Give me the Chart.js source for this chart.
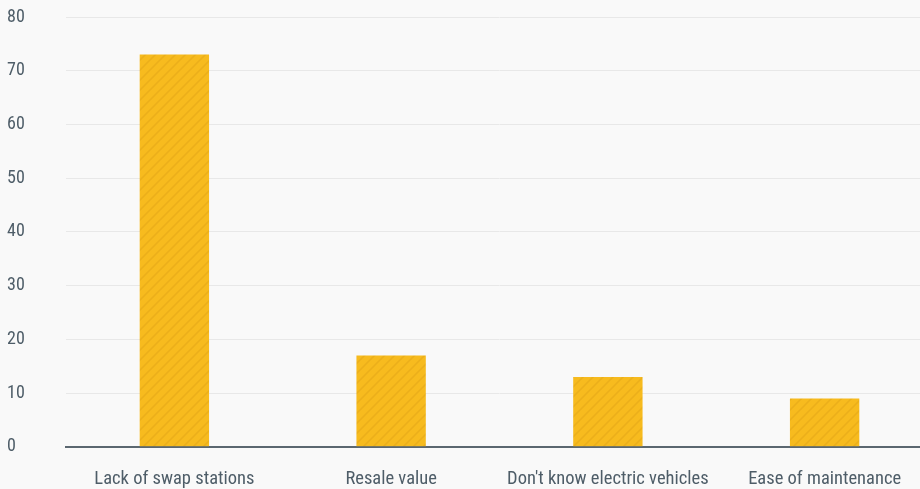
<!DOCTYPE html>
<html>
<head>
<meta charset="utf-8">
<script src="https://cdn.jsdelivr.net/npm/chart.js@4/dist/chart.umd.min.js"></script>
<style>
  html, body { margin: 0; padding: 0; background: #f9f9f9; overflow: hidden; }
  #frame { width: 920px; height: 489px; overflow: hidden; }
  #wrap { width: 933px; height: 489px; position: relative; }
</style>
</head>
<body>
<div id="frame"><div id="wrap"><canvas id="c"></canvas></div></div>
<script>
const categories = ["Lack of swap stations", "Resale value", "Don't know electric vehicles", "Ease of maintenance"];
const shares = [73, 17, 13, 9];
const yTicks = [0, 10, 20, 30, 40, 50, 60, 70, 80];

const FONT = "'Roboto Condensed', 'Liberation Sans Narrow', 'DejaVu Sans Condensed', Roboto, sans-serif";
const TEXT = '#4e5d68';

// Diagonal hatch fill for the bars
function hatch() {
  const s = 10;
  const p = document.createElement('canvas');
  p.width = s; p.height = s;
  const g = p.getContext('2d');
  g.fillStyle = '#f7bb1e';
  g.fillRect(0, 0, s, s);
  g.strokeStyle = 'rgba(200,140,20,0.25)';
  g.lineWidth = 1.5;
  g.beginPath();
  g.moveTo(-1, s + 1); g.lineTo(s + 1, -1);
  g.moveTo(-1, 1); g.lineTo(1, -1);
  g.moveTo(s - 1, s + 1); g.lineTo(s + 1, s - 1);
  g.stroke();
  return g.createPattern(p, 'repeat');
}

new Chart(document.getElementById('c'), {
  type: 'bar',
  data: {
    labels: categories,
    datasets: [{
      data: shares,
      backgroundColor: hatch(),
      borderWidth: 0,
      barPercentage: 0.4,
      categoryPercentage: 0.8
    }]
  },
  options: {
    responsive: true,
    maintainAspectRatio: false,
    animation: false,
    layout: { padding: { top: 17, right: 0, bottom: -22, left: 7 } },
    plugins: { legend: { display: false }, tooltip: { enabled: false } },
    scales: {
      x: {
        grid: { display: false, drawTicks: false },
        border: { display: true, color: '#5b6770', width: 2 },
        ticks: { color: TEXT, font: { family: FONT, size: 18.5 }, padding: 21, maxRotation: 0, autoSkip: false }
      },
      y: {
        min: 0, max: 80,
        afterBuildTicks: (ax) => { ax.ticks = yTicks.map(v => ({ value: v })); },
        afterFit: (ax) => { ax.width = 59; },
        grid: { color: '#e8e8e8', lineWidth: 1, drawTicks: false },
        border: { display: false },
        ticks: { color: TEXT, font: { family: FONT, size: 18 }, padding: 0, crossAlign: 'far' }
      }
    }
  }
});
</script>
</body>
</html>
